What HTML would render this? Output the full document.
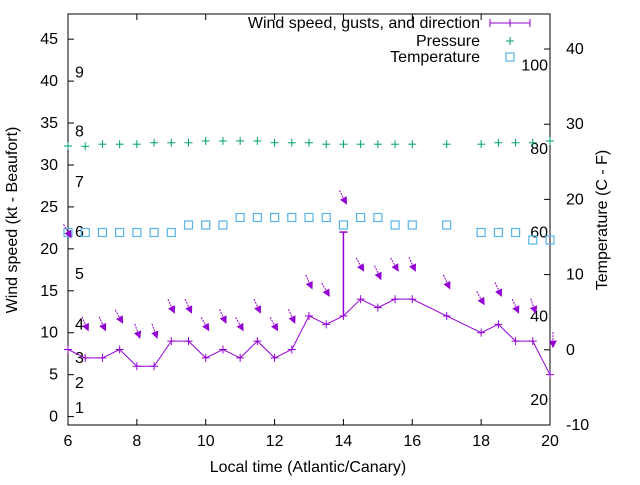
<!DOCTYPE html>
<html><head><meta charset="utf-8"><style>
body{margin:0;background:#fff}
svg{font-family:"Liberation Sans",sans-serif;font-size:16px}
</style></head><body>
<svg id="c" width="640" height="480"></svg>
<script>
const times=[6,6.5,7,7.5,8,8.5,9,9.5,10,10.5,11,11.5,12,12.5,13,13.5,14,14.5,15,15.5,16,17,18,18.5,19,19.5,20];
const wind=[8,7,7,8,6,6,9,9,7,8,7,9,7,8,12,11,12,14,13,14,14,12,10,11,9,9,5];
const gust=[21.5,10.4,10.4,11.3,9.5,9.5,12.5,12.5,10.4,11.3,10.4,12.5,10.4,11.3,15.4,14.5,25.5,17.5,16.5,17.5,17.5,15.4,13.5,14.5,12.5,12.5,8.4];
const maxGust=[null,null,null,null,null,null,null,null,null,null,null,null,null,null,null,null,22,null,null,null,null,null,null,null,null,null,null];
const dirDeg=[330,335,335,330,340,340,335,335,330,335,330,335,330,335,335,330,332,330,335,330,335,335,330,335,335,340,0];
const pressure=[1017,1016.8,1018,1018,1018,1018.8,1018.8,1018.8,1019.8,1019.8,1019.8,1019.8,1018.8,1018.8,1018.8,1018,1018,1018,1018,1018,1018,1018,1018,1018.8,1018.8,1018.8,1019.8];
const temp=[16,16,16,16,16,16,16,17,17,17,18,18,18,18,18,18,17,18,18,17,17,17,16,16,16,15,15];
const xTicks=[6,8,10,12,14,16,18,20];
const yTicks=[0,5,10,15,20,25,30,35,40,45];
const y2Ticks=[-10,0,10,20,30,40];
const beaufort=[[1,1],[2,4],[3,7],[4,11],[5,17],[6,22],[7,28],[8,34],[9,41]];
const fahr=[[20,-6.7],[40,4.4],[60,15.6],[80,26.7],[100,37.8]];

const L=68,R=550,T=14,B=425;
const X=t=>L+(t-6)*(R-L)/14;
const Y=w=>B-(w+1)*(B-T)/49;
const Y2=c=>B-(c+10)*7.52;
const YT=c=>352.5-c*7.5;
const YP=p=>146-(p-1017)*1.8;
const svg=document.getElementById('c');
const NS='http://www.w3.org/2000/svg';
function mk(tag,attrs,parent){const e=document.createElementNS(NS,tag);for(const k in attrs)e.setAttribute(k,attrs[k]);(parent||svg).appendChild(e);return e;}
function txt(x,y,s,anchor,extra){const e=mk('text',Object.assign({x:x,y:y,'text-anchor':anchor||'middle',fill:'#000'},extra||{}));e.textContent=s;return e;}

const frame=mk('rect',{x:L,y:T,width:R-L,height:B-T,fill:'none',stroke:'#000','stroke-width':1});


xTicks.forEach(t=>{
  mk('line',{x1:X(t),x2:X(t),y1:B,y2:B-6,stroke:'#000'});
  mk('line',{x1:X(t),x2:X(t),y1:T,y2:T+6,stroke:'#000'});
  const e=txt(X(t),446,String(t));
  
  
});
yTicks.forEach(v=>{
  mk('line',{x1:L,x2:L+6,y1:Y(v),y2:Y(v),stroke:'#000'});
  const e=txt(L-10,Y(v)+5,String(v),'end');
  
  
});
y2Ticks.forEach(v=>{
  mk('line',{x1:R,x2:R-6,y1:Y2(v),y2:Y2(v),stroke:'#000'});
  const e=txt(R+16,Y2(v)+5,String(v),'start');
  
  
});
beaufort.forEach(b=>{
  const e=txt(75,Y(b[1])+5,String(b[0]),'start');
  
  
});
fahr.forEach(f=>{
  const e=txt(548,Y2(f[1])+5,String(f[0]),'end');
  
  
});
let e=txt(308,472,'Local time (Atlantic/Canary)');


e=txt(0,0,'Wind speed (kt - Beaufort)','middle',{transform:'translate(17,220) rotate(-90)'});


e=txt(0,0,'Temperature (C - F)','middle',{transform:'translate(607,220) rotate(-90)'});



const P='#9400d3',G='#009e73',C='#56b4e9';
pressure.forEach((p,i)=>{
  const g=mk('g',{stroke:G,'stroke-width':1});
  
  
  const x=X(times[i]),y=YP(p);
  mk('line',{x1:x-4,x2:x+4,y1:y,y2:y},g);mk('line',{x1:x,x2:x,y1:y-4,y2:y+4},g);
});
temp.forEach((c,i)=>{
  const r=mk('rect',{x:X(times[i])-4,y:YT(c)-4,width:8,height:8,fill:'none',stroke:C,'stroke-width':1.2});
  
  
});
const pl=mk('polyline',{points:times.map((t,i)=>X(t)+','+Y(wind[i])).join(' '),fill:'none',stroke:P,'stroke-width':1});


wind.forEach((w,i)=>{
  const g=mk('g',{stroke:P});
  
  
  const x=X(times[i]),y=Y(w);
  mk('line',{x1:x-4,x2:x+4,y1:y,y2:y},g);mk('line',{x1:x,x2:x,y1:y-4,y2:y+4},g);
  if(maxGust[i]!=null){
    const yg=Y(maxGust[i]);
    mk('line',{x1:x,x2:x,y1:y,y2:yg,'stroke-width':1.5},g);mk('line',{x1:x-4,x2:x+4,y1:yg,y2:yg,'stroke-width':1.5},g);
  }
});
gust.forEach((gv,i)=>{
  const a=dirDeg[i]*Math.PI/180;
  const dx=-Math.sin(a),dy=Math.cos(a);
  const x=X(times[i])+3,y=Y(gv)+1;
  const len=15;
  const x0=x-dx*len,y0=y-dy*len;
  const g=mk('g',{stroke:P,fill:P});
  
  
  mk('line',{x1:x0,y1:y0,x2:x,y2:y,'stroke-width':1,'stroke-dasharray':'2,1'},g);
  const px=-dy,py=dx;
  mk('polygon',{points:`${x},${y} ${x-dx*6+px*3},${y-dy*6+py*3} ${x-dx*6-px*3},${y-dy*6-py*3}`,'stroke-width':1},g);
});
const lg=mk('g',{});


[['Wind speed, gusts, and direction',23],['Pressure',41],['Temperature',57]].forEach(r=>{
  const t=mk('text',{x:480,y:r[1]+5,'text-anchor':'end'},lg);t.textContent=r[0];
  
  
});
mk('line',{x1:490,x2:530,y1:23,y2:23,stroke:P},lg);
mk('line',{x1:490,x2:490,y1:19,y2:27,stroke:P},lg);
mk('line',{x1:530,x2:530,y1:19,y2:27,stroke:P},lg);
mk('line',{x1:510,x2:510,y1:19,y2:27,stroke:P},lg);
mk('line',{x1:506,x2:514,y1:41,y2:41,stroke:G},lg);
mk('line',{x1:510,x2:510,y1:37,y2:45,stroke:G},lg);
mk('rect',{x:506,y:53,width:8,height:8,fill:'none',stroke:C,'stroke-width':1.2},lg);
</script>
</body></html>
